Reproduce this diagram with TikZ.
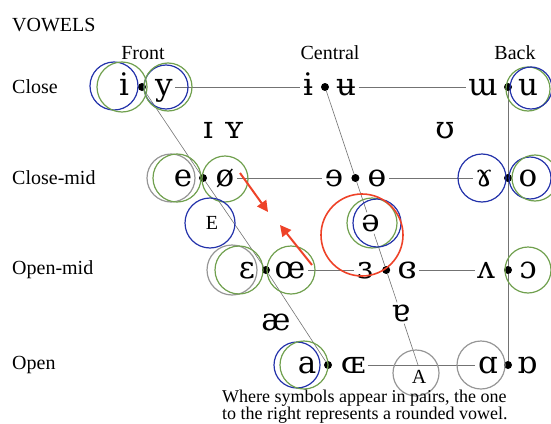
\documentclass[tikz,border=0pt]{standalone}
\usepackage{fontspec}
\setmainfont{Liberation Serif}
\newfontfamily\ipafont{DejaVu Serif}
\usepackage{tikz}
\usetikzlibrary{arrows.meta}

\definecolor{ringblue}{RGB}{35,50,170}
\definecolor{ringgreen}{RGB}{112,160,78}
\definecolor{ringgray}{RGB}{150,150,150}
\definecolor{arrowred}{RGB}{238,66,40}
\definecolor{linegray}{RGB}{115,115,115}

\begin{document}
\begin{tikzpicture}[x=1pt,y=-1pt,
    lbl/.style={inner sep=0pt,font=\fontsize{20}{24}\selectfont},
    sym/.style={fill=white,inner sep=2.5pt,text height=16pt,text depth=0pt,
      font=\ipafont\fontsize{31}{31}\selectfont},
    vdot/.style={circle,fill=black,inner sep=0pt,minimum size=8pt},
    conn/.style={draw=linegray,line width=0.6pt},
    blue ring/.style={draw=ringblue,line width=1.2pt},
    green ring/.style={draw=ringgreen,line width=1.2pt},
    gray ring/.style={draw=ringgray,line width=1.2pt},
    shift arrow/.style={draw=arrowred,line width=2pt,-{Triangle[length=11pt,width=11pt]}}]
  \useasboundingbox (0,0) rectangle (551,423);

  % headings
  \node[lbl,anchor=west] (vowels) at (12,25) {VOWELS};
  \node[lbl] (front) at (143,53) {Front};
  \node[lbl] (central) at (330,53) {Central};
  \node[lbl] (back) at (515,53) {Back};
  \node[lbl,anchor=west] (close) at (12,87) {Close};
  \node[lbl,anchor=west] (closemid) at (12,178) {Close-mid};
  \node[lbl,anchor=west] (openmid) at (12,270) {Open-mid};
  \node[lbl,anchor=west] (open) at (12,365) {Open};

  % close
  \node[sym] (iF) at (124,87) {i};
  \node[vdot] (dcf) at (142,87) {};
  \node[sym] (yF) at (164,87) {y};
  \node[sym] (iC) at (308,87) {ɨ};
  \node[vdot] (dcc) at (325,87) {};
  \node[sym] (uC) at (346,87) {ʉ};
  \node[sym] (wB) at (483,87) {ɯ};
  \node[vdot] (dcb) at (508,87) {};
  \node[sym] (uB) at (528,87) {u};
  \node[sym,fill=none] (ismall) at (208,130) {ɪ};
  \node[sym,fill=none] (ysmall) at (234,130) {ʏ};
  \node[sym,fill=none] (upsilon) at (445,130) {ʊ};

  % close-mid
  \node[sym] (eF) at (183,178) {e};
  \node[vdot] (dcmf) at (203,178) {};
  \node[sym] (oslash) at (225,178) {ø};
  \node[sym] (erev) at (334,178) {ɘ};
  \node[vdot] (dcmc) at (355.4,178) {};
  \node[sym] (obar) at (377,178) {ɵ};
  \node[sym] (gamma) at (484,178) {ɤ};
  \node[vdot] (dcmb) at (508,178) {};
  \node[sym] (oB) at (528,178) {o};
  \node[lbl] (E) at (212,223) {E};
  \node[sym] (schwa) at (370.5,223) {ə};

  % open-mid
  \node[sym] (eps) at (247,270) {ɛ};
  \node[vdot] (domf) at (266,270) {};
  \node[sym] (oe) at (290,270) {œ};
  \node[sym] (epsrev) at (365,270) {ɜ};
  \node[vdot] (domc) at (386.2,270) {};
  \node[sym] (epsclosed) at (407,270) {ɞ};
  \node[sym] (turnv) at (486,270) {ʌ};
  \node[vdot] (domb) at (508,270) {};
  \node[sym] (openo) at (528,270) {ɔ};
  \node[sym,fill=none] (ae) at (276,322) {æ};
  \node[sym] (turna) at (400.6,313) {ɐ};

  % open
  \node[sym] (aF) at (307,365) {a};
  \node[vdot] (dof) at (328,365) {};
  \node[sym] (OE) at (353,365) {ɶ};
  \coordinate (copen) at (418,365);
  \node[sym] (alpha) at (488,365) {ɑ};
  \node[vdot] (dob) at (508,365) {};
  \node[sym] (turnalpha) at (527,365) {ɒ};
  \node[lbl] (A) at (419,377) {A};

  % connectors
  \draw[conn] (dcf) -- (dcmf) -- (domf) -- (dof);
  \draw[conn] (dcc) -- (dcmc) -- (schwa) -- (domc) -- (turna) -- (copen);
  \draw[conn] (dcb) -- (dcmb) -- (domb) -- (dob);
  \draw[conn] (yF) -- (iC);
  \draw[conn] (uC) -- (wB);
  \draw[conn] (oslash) -- (erev);
  \draw[conn] (obar) -- (gamma);
  \draw[conn] (oe) -- (epsrev);
  \draw[conn] (epsclosed) -- (turnv);
  \draw[conn] (OE) -- (alpha);

  % rings
  \draw[blue ring] (114,86) circle (24pt);
  \draw[green ring] (122,87) circle (25pt);
  \draw[blue ring] (166,87) circle (22pt);
  \draw[green ring] (168,87) circle (24pt);
  \draw[green ring] (528,89) circle (22pt);
  \draw[blue ring] (531,88) circle (21pt);
  \draw[gray ring] (171,178) circle (24pt);
  \draw[green ring] (177,178) circle (24pt);
  \draw[green ring] (225,179) circle (23pt);
  \draw[blue ring] (482,178) circle (24pt);
  \draw[blue ring] (530,178) circle (21pt);
  \draw[green ring] (535,178) circle (23pt);
  \draw[blue ring] (210,223) circle (25pt);
  \draw[green ring] (372,223) circle (25pt);
  \draw[blue ring] (377,223) circle (24pt);
  \draw[draw=arrowred,line width=1.6pt] (362,235) circle (41pt);
  \draw[gray ring] (232,270) circle (25pt);
  \draw[green ring] (239,270) circle (24pt);
  \draw[green ring] (291,270) circle (24pt);
  \draw[green ring] (528,270) circle (23pt);
  \draw[blue ring] (297,365) circle (23pt);
  \draw[green ring] (304,365) circle (24pt);
  \draw[gray ring] (481,365) circle (24pt);
  \draw[gray ring] (416,373) circle (23pt);

  % shifts
  \draw[shift arrow] (240,173) -- (268,212);
  \draw[shift arrow] (312,265) -- (280,225);

  \node[lbl,anchor=north west,align=left,font=\fontsize{18}{17}\selectfont] (note) at (222,390)
    {Where symbols appear in pairs, the one\\to the right represents a rounded vowel.};
\end{tikzpicture}
\end{document}
